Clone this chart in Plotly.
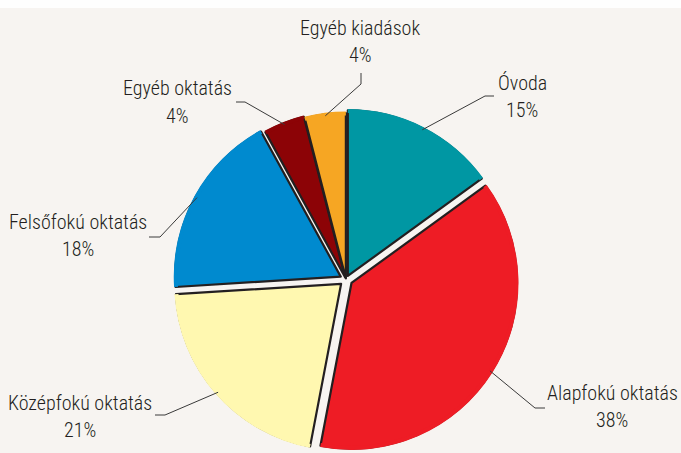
import math
import plotly.graph_objects as go

# ---------------- data ----------------
labels = ["Óvoda", "Alapfokú oktatás", "Középfokú oktatás",
          "Felsőfokú oktatás", "Egyéb oktatás", "Egyéb kiadások"]
values = [15, 38, 21, 18, 4, 4]
pct_labels = ["15%", "38%", "21%", "18%", "4%", "4%"]

# ---------------- styles / layout ----------------
colors = ["#0097a3", "#ee1c25", "#fff8b0", "#008acf", "#8c0306", "#f6a623"]
pull_px = [4.0, 6.5, 6.5, 6.0, 2.5, 1.0]          # slice offset in pixels
W, H = 681, 453                                    # figure size
CX, CY = 346, 279.5                                # pie centre (px)
R_FILL = 167.0                                     # radius of the fill pie
R_LINE = 165.5                                     # radius of the outlined pie
BG = "#f7f4f1"
TXT = "#231f20"
FONT = "Liberation Sans Narrow, Arial Narrow, Roboto Condensed, DejaVu Sans Condensed, sans-serif"

# label placement (px): (centre x, name y, percent y, elbow x, elbow y, stub x, stub y)
label_pos = [
    (522, 83, 110, 485, 96, 494, 96),
    (612, 393, 420, 535, 408, 545, 408),
    (80, 403, 430, 165, 415, 155, 415),
    (78, 222, 249, 160, 237, 149, 237),
    (178, 88, 116, 245, 102, 236, 102),
    (360, 28, 55, 361, 84, 361, 73),
]


def px(x):
    return x / W


def py(y):
    return 1 - y / H


def pie_geom(r):
    pulls = [p / r for p in pull_px]
    half = r * (1 + max(pulls))
    dx = [max(0, (CX - half) / W), min(1, (CX + half) / W)]
    dy = [max(0, 1 - (CY + half) / H), min(1, 1 - (CY - half) / H)]
    return dx, dy, pulls


fig = go.Figure()

# outlined pie (dark edges)
dx1, dy1, pulls1 = pie_geom(R_LINE)
fig.add_trace(go.Pie(
    labels=labels, values=values, sort=False, direction="clockwise", rotation=0,
    marker=dict(colors=colors, line=dict(color="#231f20", width=2.2)),
    pull=pulls1, textinfo="none", hoverinfo="skip", showlegend=False,
    domain=dict(x=dx1, y=dy1),
))

# fill ring on top that hides the outline on the outer arcs
dx2, dy2, pulls2 = pie_geom(R_FILL)
fig.add_trace(go.Pie(
    labels=labels, values=values, sort=False, direction="clockwise", rotation=0,
    marker=dict(colors=colors, line=dict(width=0)),
    hole=(R_LINE - 2.5) / R_FILL,
    pull=pulls2, textinfo="none", hoverinfo="skip", showlegend=False,
    domain=dict(x=dx2, y=dy2),
))

# labels and leader lines
total = sum(values)
cum = 0
annotations = []
shapes = [dict(type="rect", xref="paper", yref="paper", x0=0, x1=1, y0=py(8), y1=1,
               fillcolor="#fefefe", line=dict(width=0), layer="below")]
for i, (lab, v, pct) in enumerate(zip(labels, values, pct_labels)):
    mid = (cum + v / 2) / total * 2 * math.pi
    cum += v
    nx, ny, pyy, ex, ey, sx, sy = label_pos[i]
    rr = R_FILL + pull_px[i] - 3
    ax = CX + rr * math.sin(mid)
    ay = CY - rr * math.cos(mid)
    for txt, yy in ((lab, ny), (pct, pyy)):
        annotations.append(dict(x=px(nx), y=py(yy), xref="paper", yref="paper", text=txt,
                                showarrow=False, xanchor="center", yanchor="middle",
                                font=dict(family=FONT, size=20, color=TXT, weight=300)))
    path = f"M {px(ax)},{py(ay)} L {px(ex)},{py(ey)} L {px(sx)},{py(sy)}"
    shapes.append(dict(type="path", xref="paper", yref="paper", path=path,
                       line=dict(color="#3a3a3a", width=1)))

fig.update_layout(
    width=W, height=H, margin=dict(l=0, r=0, t=0, b=0),
    paper_bgcolor=BG, plot_bgcolor=BG,
    annotations=annotations, shapes=shapes,
)

fig.write_html(
    "out.html",
    config={"displayModeBar": False},
    post_script="document.body.style.margin='0';document.body.style.overflow='hidden';",
)
